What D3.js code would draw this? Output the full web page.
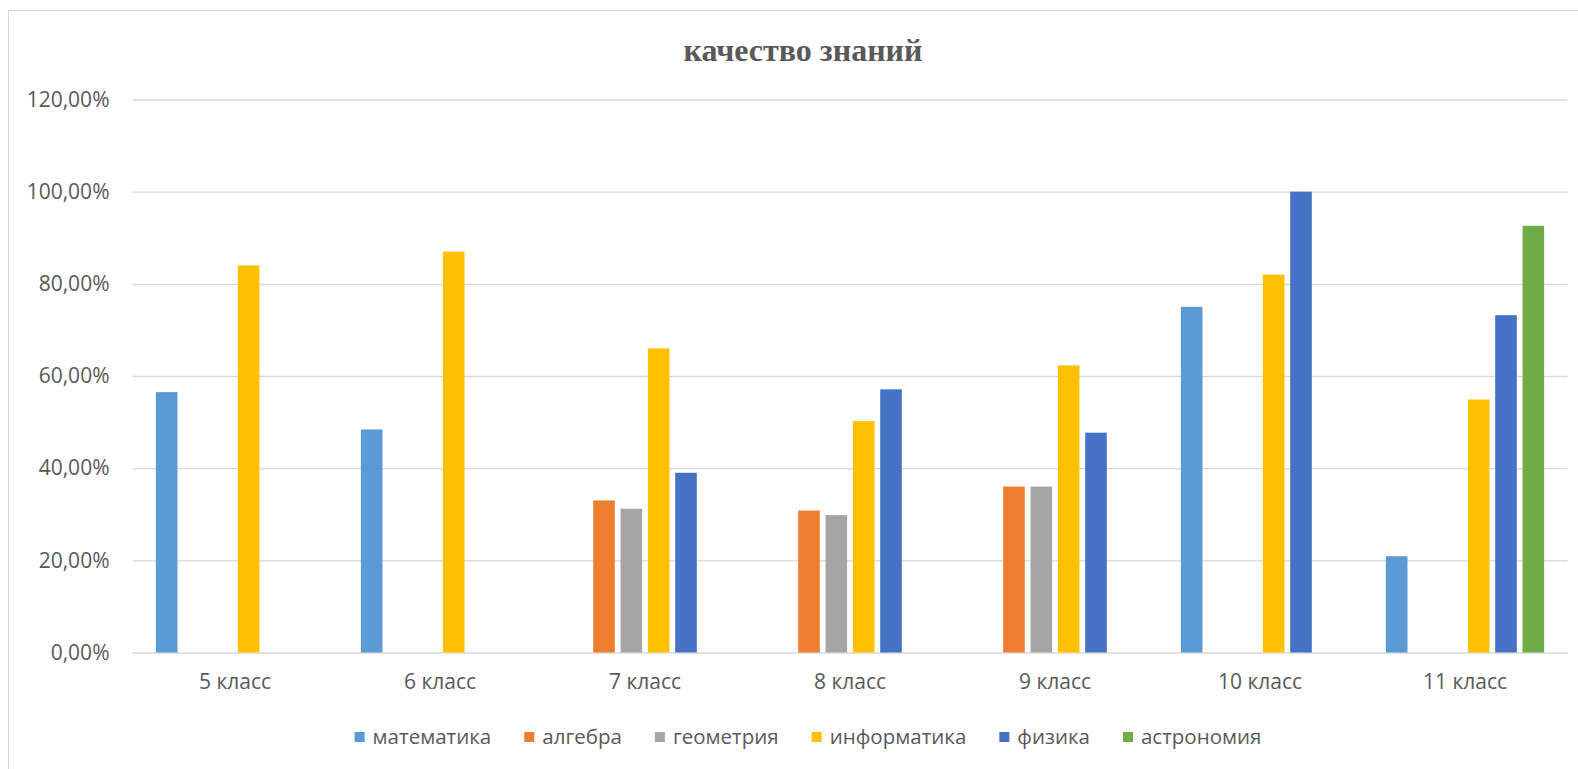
<!DOCTYPE html>
<html>
<head>
<meta charset="utf-8">
<script src="https://cdn.jsdelivr.net/npm/d3@7"></script>
<style>
  body { margin: 0; background: #fff; }
  svg { display: block; }
</style>
</head>
<body>
<div id="chart"></div>
<script>
/// DATA

const classes = ["5 класс", "6 класс", "7 класс", "8 класс", "9 класс", "10 класс", "11 класс"]
const subjects = ["математика", "алгебра", "геометрия", "информатика", "физика", "астрономия"]

// one array per subject, null = no bar for that class
const matematika = [0.565, 0.484, null, null, null, 0.75, 0.209]
const algebra = [null, null, 0.33, 0.308, 0.36, null, null]
const geometria = [null, null, 0.312, 0.298, 0.36, null, null]
const informatika = [0.84, 0.87, 0.66, 0.502, 0.623, 0.82, 0.549]
const fizika = [null, null, 0.39, 0.571, 0.477, 1.0, 0.732]
const astronomia = [null, null, null, null, null, null, 0.926]

const yTicks = [0, 0.2, 0.4, 0.6, 0.8, 1.0, 1.2]

const seriesValues = [matematika, algebra, geometria, informatika, fizika, astronomia]
const colors = ["#5B9BD5", "#ED7D31", "#A5A5A5", "#FFC000", "#4472C4", "#70AD47"]

const rows = []
classes.forEach((c, i) => {
  subjects.forEach((s, j) => {
    if (seriesValues[j][i] !== null) rows.push({ cls: c, subject: s, value: seriesValues[j][i] })
  })
})

const width = 1578
const height = 769

const margins = { top: 99.5, right: 10.5, bottom: 116.5, left: 132.5 }

const locale = d3.formatLocale({
  decimal: ",",
  thousands: " ",
  grouping: [3],
  currency: ["", " ₽"],
})
const fmt = locale.format(".2%")

/// SCALES

const xScale = d3
  .scaleBand()
  .domain(classes)
  .range([margins.left, width - margins.right])
  .paddingInner(0.2)
  .paddingOuter(0.1)

const xSub = d3
  .scaleBand()
  .domain(subjects)
  .range([0, xScale.bandwidth()])
  .paddingInner(0.21)
  .paddingOuter(0.105)

const yScale = d3
  .scaleLinear()
  .domain([0, 1.2])
  .range([height - margins.bottom, margins.top])

const colorScale = d3.scaleOrdinal().domain(subjects).range(colors)

const svg = d3
  .select("#chart")
  .append("svg")
  .attr("width", width)
  .attr("height", height)
  .attr("viewBox", [0, 0, width, height])

// chart frame (only left and top edges are in view)
svg
  .append("rect")
  .attr("x", 8.5)
  .attr("y", 10.5)
  .attr("width", width + 20)
  .attr("height", height + 20)
  .attr("fill", "none")
  .attr("stroke", "#d9d9d9")
  .attr("stroke-width", 1)

// TITLE
svg
  .append("text")
  .attr("x", 803)
  .attr("y", 61)
  .attr("text-anchor", "middle")
  .style("font-family", "'Liberation Serif', 'Times New Roman', serif")
  .style("font-weight", "bold")
  .style("font-size", "32px")
  .style("fill", "#595959")
  .text("качество знаний")

/// AXES

const yAxisGenerator = d3
  .axisLeft()
  .scale(yScale)
  .tickValues(yTicks)
  .tickFormat(fmt)
  .tickSizeInner(-(width - margins.left - margins.right))
  .tickSizeOuter(0)
  .tickPadding(23)

const yAxis = svg
  .append("g")
  .attr("class", "y-axis")
  .attr("transform", `translate(${margins.left},0)`)
  .call(yAxisGenerator)

yAxis.select(".domain").remove()
yAxis.selectAll(".tick line").attr("stroke", "#d9d9d9").attr("stroke-width", 1.3)
yAxis
  .selectAll(".tick text")
  .style("font-family", "'Open Sans', sans-serif")
  .style("font-size", "21px")
  .style("fill", "#595959")

const xAxisGenerator = d3.axisBottom().scale(xScale).tickSize(0).tickPadding(22)

const xAxis = svg
  .append("g")
  .attr("class", "x-axis")
  .attr("transform", `translate(0,${height - margins.bottom})`)
  .call(xAxisGenerator)

xAxis.select(".domain").remove()
xAxis
  .selectAll(".tick text")
  .style("font-family", "'Open Sans', sans-serif")
  .style("font-size", "21px")
  .style("fill", "#595959")

//// BARS

svg
  .append("g")
  .selectAll("rect")
  .data(rows)
  .join("rect")
  .attr("x", (d) => xScale(d.cls) + xSub(d.subject))
  .attr("y", (d) => yScale(d.value))
  .attr("width", xSub.bandwidth())
  .attr("height", (d) => yScale(0) - yScale(d.value))
  .attr("fill", (d) => colorScale(d.subject))

///////////////////////// LEGEND ///////////////

const legend = svg.append("g").attr("class", "legend")
const legendY = 737
const sq = 10
const sqGap = 8
const itemGap = 33

const items = legend
  .selectAll("g")
  .data(subjects)
  .join("g")

items
  .append("rect")
  .attr("width", sq)
  .attr("height", sq)
  .attr("y", legendY - sq / 2)
  .attr("fill", (d) => colorScale(d))

items
  .append("text")
  .attr("x", sq + sqGap)
  .attr("y", legendY)
  .attr("dy", "0.35em")
  .style("font-family", "'Open Sans', sans-serif")
  .style("font-size", "20.5px")
  .style("fill", "#595959")
  .text((d) => d)

let offset = 0
const offsets = []
items.each(function () {
  const w = d3.select(this).select("text").node().getComputedTextLength()
  offsets.push(offset)
  offset += sq + sqGap + w + itemGap
})
const totalW = offset - itemGap
const legendStart = 808 - totalW / 2
items.attr("transform", (d, i) => `translate(${legendStart + offsets[i]},0)`)
</script>
</body>
</html>
